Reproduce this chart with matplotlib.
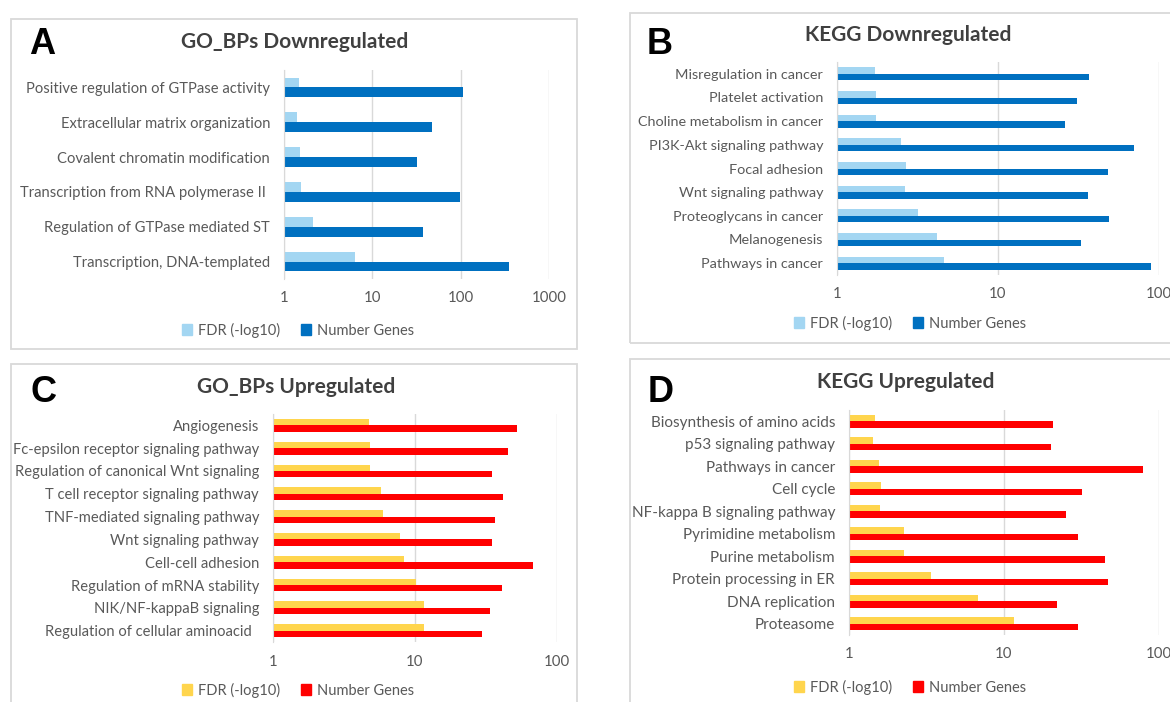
import matplotlib
matplotlib.use("Agg")
import matplotlib.pyplot as plt
from matplotlib.patches import Rectangle, Patch
import numpy as np

# Datos de cada panel (de arriba hacia abajo)
a_terms = ["Positive regulation of GTPase activity", "Extracellular matrix organization",
           "Covalent chromatin modification", "Transcription from RNA polymerase II ",
           "Regulation of GTPase mediated ST", "Transcription, DNA-templated"]
a_fdr = [1.47, 1.42, 1.51, 1.57, 2.15, 6.4]
a_genes = [106, 47, 32, 99, 37.5, 350]

b_terms = ["Misregulation in cancer", "Platelet activation", "Choline metabolism in cancer",
           "PI3K-Akt signaling pathway", "Focal adhesion", "Wnt signaling pathway",
           "Proteoglycans in cancer", "Melanogenesis", "Pathways in cancer"]
b_fdr = [1.72, 1.75, 1.75, 2.5, 2.68, 2.63, 3.2, 4.2, 4.6]
b_genes = [37, 31, 26, 70, 48, 36, 49, 33, 89]

c_terms = ["Angiogenesis", "Fc-epsilon receptor signaling pathway",
           "Regulation of canonical Wnt signaling", "T cell receptor signaling pathway",
           "TNF-mediated signaling pathway", "Wnt signaling pathway", "Cell-cell adhesion",
           "Regulation of mRNA stability", "NIK/NF-kappaB signaling",
           "Regulation of cellular aminoacid  "]
c_fdr = [4.76, 4.84, 4.79, 5.8, 6.0, 7.9, 8.3, 10.1, 11.6, 11.6]
c_genes = [52, 45, 35, 41.6, 36.8, 34.6, 68, 40.8, 33.8, 29.8]

d_terms = ["Biosynthesis of amino acids", "p53 signaling pathway", "Pathways in cancer",
           "Cell cycle", "NF-kappa B signaling pathway", "Pyrimidine metabolism",
           "Purine metabolism", "Protein processing in ER", "DNA replication", "Proteasome"]
d_fdr = [1.47, 1.42, 1.57, 1.62, 1.58, 2.28, 2.28, 3.37, 6.8, 11.6]
d_genes = [20.8, 20, 79, 32, 25, 30, 45, 47, 22, 30]

W, H = 1170, 702
plt.rcParams["font.family"] = ["Lato", "DejaVu Sans"]

fig = plt.figure(figsize=(W / 100, H / 100), dpi=100)

# conversion pixeles -> coordenadas de figura
def fx(x):
    return x / W

def fy(y):
    return 1 - y / H

def panel(box, area, terms, fdr, genes, xmax, c1, c2, letter, lpos, title, tpos, legpos, fs=10.6):
    # recuadro gris del panel
    x0, y0, x1, y1 = box
    fig.patches.append(Rectangle((fx(x0), fy(y1)), (x1 - x0) / W, (y1 - y0) / H,
                                 transform=fig.transFigure, fill=False,
                                 edgecolor="#d9d9d9", lw=1.3))
    ax0, ay0, ax1, ay1 = area
    ax = fig.add_axes([fx(ax0), fy(ay1), (ax1 - ax0) / W, (ay1 - ay0) / H])
    n = len(terms)
    y = np.arange(n)
    h = 0.28
    ax.barh(y - h / 2, np.array(fdr) - 1, left=1, height=h, color=c1, label="FDR (-log10)")
    ax.barh(y + h / 2, np.array(genes) - 1, left=1, height=h, color=c2, label="Number Genes")
    ax.set_xscale("log")
    ax.set_xlim(1, xmax)
    ax.set_ylim(n - 0.5, -0.5)
    ticks = [10 ** k for k in range(int(round(np.log10(xmax))) + 1)]
    ax.set_xticks(ticks)
    ax.set_xticklabels([str(t) for t in ticks])
    ax.xaxis.set_minor_locator(matplotlib.ticker.NullLocator())
    ax.set_yticks(y)
    ax.set_yticklabels(terms)
    ax.tick_params(axis="x", length=0, pad=9, labelsize=10.8, labelcolor="#595959")
    ax.tick_params(axis="y", length=0, pad=10, labelsize=fs, labelcolor="#595959")
    ax.grid(axis="x", color="#d9d9d9", lw=1)
    ax.set_axisbelow(True)
    for s in ["top", "right", "bottom"]:
        ax.spines[s].set_visible(False)
    ax.spines["left"].set_color("#d9d9d9")
    fig.text(fx(lpos[0]), fy(lpos[1]), letter, fontsize=26, fontweight="bold",
             family="Liberation Sans", ha="center", va="center")
    fig.text(fx(tpos[0]), fy(tpos[1]), title, fontsize=15, fontweight="bold",
             color="#404040", ha="center", va="center")
    hnd = [Patch(color=c1), Patch(color=c2)]
    fig.legend(hnd, ["FDR (-log10)", "Number Genes"], loc="center", ncol=2,
               bbox_to_anchor=(fx(legpos[0]), fy(legpos[1])), frameon=False,
               fontsize=10.5, labelcolor="#595959", handlelength=0.7, handleheight=0.7,
               handletextpad=0.4, columnspacing=1.4)
    return ax

azul1, azul2 = "#a3d6f2", "#0070c0"
amarillo, rojo = "#ffd54d", "#ff0000"

panel((11, 19, 577, 349), (284, 70, 549, 279), a_terms, a_fdr, a_genes, 1000,
      azul1, azul2, "A", (42, 44), "GO_BPs Downregulated", (295, 42), (298, 330))
panel((630, 13, 1200, 343), (837, 62, 1159, 275), b_terms, b_fdr, b_genes, 100,
      azul1, azul2, "B", (660, 44), "KEGG Downregulated", (908, 35), (910, 323), fs=10.4)
panel((11, 364, 577, 720), (273, 414, 557, 642), c_terms, c_fdr, c_genes, 100,
      amarillo, rojo, "C", (44, 392), "GO_BPs Upregulated", (296, 387), (298, 690))
panel((630, 359, 1200, 720), (849, 410, 1159, 635), d_terms, d_fdr, d_genes, 100,
      amarillo, rojo, "D", (661, 392), "KEGG Upregulated", (906, 382), (910, 687), fs=11)

fig.savefig("out.png", dpi=100)
